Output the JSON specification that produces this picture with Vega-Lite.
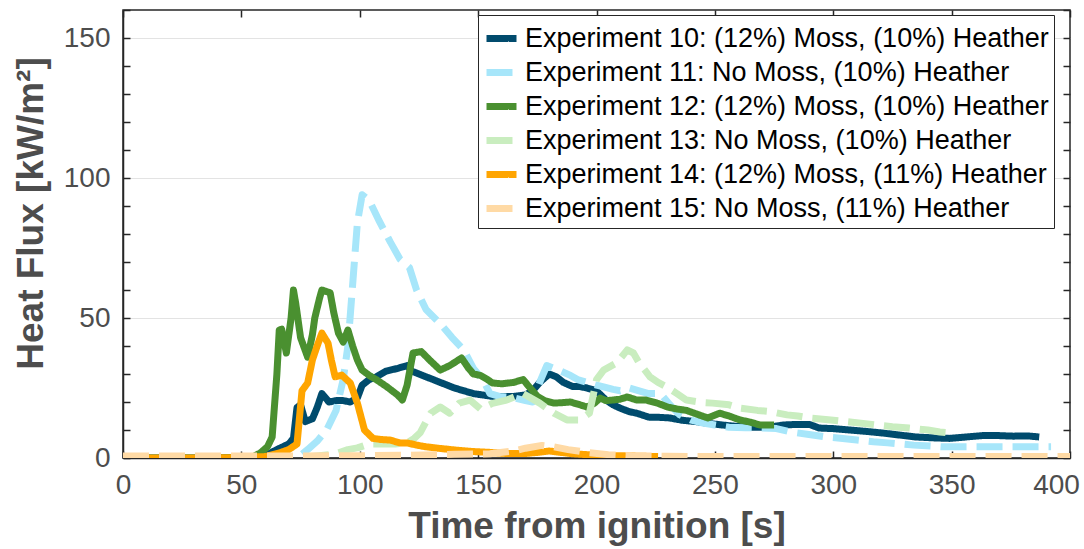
{
  "$schema": "https://vega.github.io/schema/vega-lite/v6.json",
  "width": 947,
  "height": 448,
  "autosize": {"type": "none"},
  "padding": {"left": 123, "top": 10, "right": 14, "bottom": 91},
  "background": "white",
  "config": {
    "view": {"stroke": "#262626", "strokeWidth": 1.5},
    "font": "Liberation Sans"
  },
  "datasets": {
    "d": [
      {"exp": "Experiment 10: (12%) Moss, (10%) Heather", "t": 0, "v": 0},
      {"exp": "Experiment 10: (12%) Moss, (10%) Heather", "t": 40, "v": 0},
      {"exp": "Experiment 10: (12%) Moss, (10%) Heather", "t": 55, "v": 0.3},
      {"exp": "Experiment 10: (12%) Moss, (10%) Heather", "t": 60, "v": 0.8},
      {"exp": "Experiment 10: (12%) Moss, (10%) Heather", "t": 65, "v": 3},
      {"exp": "Experiment 10: (12%) Moss, (10%) Heather", "t": 70, "v": 5},
      {"exp": "Experiment 10: (12%) Moss, (10%) Heather", "t": 72, "v": 7},
      {"exp": "Experiment 10: (12%) Moss, (10%) Heather", "t": 73.5, "v": 18},
      {"exp": "Experiment 10: (12%) Moss, (10%) Heather", "t": 75, "v": 19},
      {"exp": "Experiment 10: (12%) Moss, (10%) Heather", "t": 77, "v": 13},
      {"exp": "Experiment 10: (12%) Moss, (10%) Heather", "t": 80, "v": 14},
      {"exp": "Experiment 10: (12%) Moss, (10%) Heather", "t": 82, "v": 18},
      {"exp": "Experiment 10: (12%) Moss, (10%) Heather", "t": 84, "v": 23},
      {"exp": "Experiment 10: (12%) Moss, (10%) Heather", "t": 87, "v": 20},
      {"exp": "Experiment 10: (12%) Moss, (10%) Heather", "t": 90, "v": 20.5},
      {"exp": "Experiment 10: (12%) Moss, (10%) Heather", "t": 93, "v": 20.5},
      {"exp": "Experiment 10: (12%) Moss, (10%) Heather", "t": 96, "v": 20},
      {"exp": "Experiment 10: (12%) Moss, (10%) Heather", "t": 99, "v": 21.5},
      {"exp": "Experiment 10: (12%) Moss, (10%) Heather", "t": 101, "v": 26},
      {"exp": "Experiment 10: (12%) Moss, (10%) Heather", "t": 104, "v": 28},
      {"exp": "Experiment 10: (12%) Moss, (10%) Heather", "t": 107, "v": 29},
      {"exp": "Experiment 10: (12%) Moss, (10%) Heather", "t": 111, "v": 31},
      {"exp": "Experiment 10: (12%) Moss, (10%) Heather", "t": 116, "v": 32},
      {"exp": "Experiment 10: (12%) Moss, (10%) Heather", "t": 120, "v": 33},
      {"exp": "Experiment 10: (12%) Moss, (10%) Heather", "t": 122, "v": 31},
      {"exp": "Experiment 10: (12%) Moss, (10%) Heather", "t": 125, "v": 30},
      {"exp": "Experiment 10: (12%) Moss, (10%) Heather", "t": 128, "v": 29},
      {"exp": "Experiment 10: (12%) Moss, (10%) Heather", "t": 131, "v": 28},
      {"exp": "Experiment 10: (12%) Moss, (10%) Heather", "t": 134, "v": 27},
      {"exp": "Experiment 10: (12%) Moss, (10%) Heather", "t": 137, "v": 26},
      {"exp": "Experiment 10: (12%) Moss, (10%) Heather", "t": 140, "v": 25},
      {"exp": "Experiment 10: (12%) Moss, (10%) Heather", "t": 144, "v": 24},
      {"exp": "Experiment 10: (12%) Moss, (10%) Heather", "t": 148, "v": 23},
      {"exp": "Experiment 10: (12%) Moss, (10%) Heather", "t": 152, "v": 22.5},
      {"exp": "Experiment 10: (12%) Moss, (10%) Heather", "t": 156, "v": 22},
      {"exp": "Experiment 10: (12%) Moss, (10%) Heather", "t": 160, "v": 22},
      {"exp": "Experiment 10: (12%) Moss, (10%) Heather", "t": 165, "v": 22},
      {"exp": "Experiment 10: (12%) Moss, (10%) Heather", "t": 170, "v": 22.5},
      {"exp": "Experiment 10: (12%) Moss, (10%) Heather", "t": 173, "v": 24},
      {"exp": "Experiment 10: (12%) Moss, (10%) Heather", "t": 176, "v": 27},
      {"exp": "Experiment 10: (12%) Moss, (10%) Heather", "t": 180, "v": 30},
      {"exp": "Experiment 10: (12%) Moss, (10%) Heather", "t": 183, "v": 29},
      {"exp": "Experiment 10: (12%) Moss, (10%) Heather", "t": 186, "v": 27},
      {"exp": "Experiment 10: (12%) Moss, (10%) Heather", "t": 190, "v": 25.5},
      {"exp": "Experiment 10: (12%) Moss, (10%) Heather", "t": 193, "v": 25.5},
      {"exp": "Experiment 10: (12%) Moss, (10%) Heather", "t": 196, "v": 25},
      {"exp": "Experiment 10: (12%) Moss, (10%) Heather", "t": 200, "v": 24},
      {"exp": "Experiment 10: (12%) Moss, (10%) Heather", "t": 204, "v": 20.7},
      {"exp": "Experiment 10: (12%) Moss, (10%) Heather", "t": 207, "v": 19},
      {"exp": "Experiment 10: (12%) Moss, (10%) Heather", "t": 210, "v": 17.8},
      {"exp": "Experiment 10: (12%) Moss, (10%) Heather", "t": 214, "v": 16.5},
      {"exp": "Experiment 10: (12%) Moss, (10%) Heather", "t": 217, "v": 16},
      {"exp": "Experiment 10: (12%) Moss, (10%) Heather", "t": 222, "v": 14.6},
      {"exp": "Experiment 10: (12%) Moss, (10%) Heather", "t": 227, "v": 14.5},
      {"exp": "Experiment 10: (12%) Moss, (10%) Heather", "t": 231, "v": 14.3},
      {"exp": "Experiment 10: (12%) Moss, (10%) Heather", "t": 236, "v": 13.5},
      {"exp": "Experiment 10: (12%) Moss, (10%) Heather", "t": 242, "v": 13},
      {"exp": "Experiment 10: (12%) Moss, (10%) Heather", "t": 248, "v": 12.3},
      {"exp": "Experiment 10: (12%) Moss, (10%) Heather", "t": 253, "v": 11.8},
      {"exp": "Experiment 10: (12%) Moss, (10%) Heather", "t": 259, "v": 11.3},
      {"exp": "Experiment 10: (12%) Moss, (10%) Heather", "t": 265, "v": 11},
      {"exp": "Experiment 10: (12%) Moss, (10%) Heather", "t": 273, "v": 11},
      {"exp": "Experiment 10: (12%) Moss, (10%) Heather", "t": 279, "v": 11.8},
      {"exp": "Experiment 10: (12%) Moss, (10%) Heather", "t": 285, "v": 12},
      {"exp": "Experiment 10: (12%) Moss, (10%) Heather", "t": 290, "v": 12},
      {"exp": "Experiment 10: (12%) Moss, (10%) Heather", "t": 294, "v": 10.7},
      {"exp": "Experiment 10: (12%) Moss, (10%) Heather", "t": 300, "v": 10.5},
      {"exp": "Experiment 10: (12%) Moss, (10%) Heather", "t": 307, "v": 10},
      {"exp": "Experiment 10: (12%) Moss, (10%) Heather", "t": 314, "v": 9.5},
      {"exp": "Experiment 10: (12%) Moss, (10%) Heather", "t": 321, "v": 8.9},
      {"exp": "Experiment 10: (12%) Moss, (10%) Heather", "t": 328, "v": 8.2},
      {"exp": "Experiment 10: (12%) Moss, (10%) Heather", "t": 335, "v": 7.5},
      {"exp": "Experiment 10: (12%) Moss, (10%) Heather", "t": 342, "v": 7.2},
      {"exp": "Experiment 10: (12%) Moss, (10%) Heather", "t": 349, "v": 7},
      {"exp": "Experiment 10: (12%) Moss, (10%) Heather", "t": 356, "v": 7.5},
      {"exp": "Experiment 10: (12%) Moss, (10%) Heather", "t": 363, "v": 8},
      {"exp": "Experiment 10: (12%) Moss, (10%) Heather", "t": 370, "v": 8},
      {"exp": "Experiment 10: (12%) Moss, (10%) Heather", "t": 376, "v": 7.8},
      {"exp": "Experiment 10: (12%) Moss, (10%) Heather", "t": 382, "v": 7.9},
      {"exp": "Experiment 10: (12%) Moss, (10%) Heather", "t": 387, "v": 7.5},

      {"exp": "Experiment 11: No Moss, (10%) Heather", "t": 0, "v": 0},
      {"exp": "Experiment 11: No Moss, (10%) Heather", "t": 40, "v": 0},
      {"exp": "Experiment 11: No Moss, (10%) Heather", "t": 70, "v": 0},
      {"exp": "Experiment 11: No Moss, (10%) Heather", "t": 75, "v": 1},
      {"exp": "Experiment 11: No Moss, (10%) Heather", "t": 78, "v": 3},
      {"exp": "Experiment 11: No Moss, (10%) Heather", "t": 82, "v": 6},
      {"exp": "Experiment 11: No Moss, (10%) Heather", "t": 86, "v": 10},
      {"exp": "Experiment 11: No Moss, (10%) Heather", "t": 90, "v": 17},
      {"exp": "Experiment 11: No Moss, (10%) Heather", "t": 93, "v": 28},
      {"exp": "Experiment 11: No Moss, (10%) Heather", "t": 95, "v": 40},
      {"exp": "Experiment 11: No Moss, (10%) Heather", "t": 97, "v": 62},
      {"exp": "Experiment 11: No Moss, (10%) Heather", "t": 99, "v": 84},
      {"exp": "Experiment 11: No Moss, (10%) Heather", "t": 101, "v": 94},
      {"exp": "Experiment 11: No Moss, (10%) Heather", "t": 104, "v": 92},
      {"exp": "Experiment 11: No Moss, (10%) Heather", "t": 108, "v": 85},
      {"exp": "Experiment 11: No Moss, (10%) Heather", "t": 113, "v": 77},
      {"exp": "Experiment 11: No Moss, (10%) Heather", "t": 117, "v": 71},
      {"exp": "Experiment 11: No Moss, (10%) Heather", "t": 121, "v": 68},
      {"exp": "Experiment 11: No Moss, (10%) Heather", "t": 124, "v": 60},
      {"exp": "Experiment 11: No Moss, (10%) Heather", "t": 128, "v": 53},
      {"exp": "Experiment 11: No Moss, (10%) Heather", "t": 134, "v": 48},
      {"exp": "Experiment 11: No Moss, (10%) Heather", "t": 139, "v": 43},
      {"exp": "Experiment 11: No Moss, (10%) Heather", "t": 144, "v": 38.5},
      {"exp": "Experiment 11: No Moss, (10%) Heather", "t": 148, "v": 32},
      {"exp": "Experiment 11: No Moss, (10%) Heather", "t": 152, "v": 28},
      {"exp": "Experiment 11: No Moss, (10%) Heather", "t": 155, "v": 23},
      {"exp": "Experiment 11: No Moss, (10%) Heather", "t": 159, "v": 22},
      {"exp": "Experiment 11: No Moss, (10%) Heather", "t": 165, "v": 21.5},
      {"exp": "Experiment 11: No Moss, (10%) Heather", "t": 170, "v": 20.5},
      {"exp": "Experiment 11: No Moss, (10%) Heather", "t": 173, "v": 20},
      {"exp": "Experiment 11: No Moss, (10%) Heather", "t": 176, "v": 27},
      {"exp": "Experiment 11: No Moss, (10%) Heather", "t": 179, "v": 33},
      {"exp": "Experiment 11: No Moss, (10%) Heather", "t": 182, "v": 32},
      {"exp": "Experiment 11: No Moss, (10%) Heather", "t": 185, "v": 31},
      {"exp": "Experiment 11: No Moss, (10%) Heather", "t": 189, "v": 29.5},
      {"exp": "Experiment 11: No Moss, (10%) Heather", "t": 192, "v": 28},
      {"exp": "Experiment 11: No Moss, (10%) Heather", "t": 196, "v": 27},
      {"exp": "Experiment 11: No Moss, (10%) Heather", "t": 200, "v": 26},
      {"exp": "Experiment 11: No Moss, (10%) Heather", "t": 203, "v": 25.4},
      {"exp": "Experiment 11: No Moss, (10%) Heather", "t": 207, "v": 24.5},
      {"exp": "Experiment 11: No Moss, (10%) Heather", "t": 210, "v": 24},
      {"exp": "Experiment 11: No Moss, (10%) Heather", "t": 214, "v": 25},
      {"exp": "Experiment 11: No Moss, (10%) Heather", "t": 218, "v": 24},
      {"exp": "Experiment 11: No Moss, (10%) Heather", "t": 222, "v": 23},
      {"exp": "Experiment 11: No Moss, (10%) Heather", "t": 227, "v": 23},
      {"exp": "Experiment 11: No Moss, (10%) Heather", "t": 231, "v": 19},
      {"exp": "Experiment 11: No Moss, (10%) Heather", "t": 235, "v": 15.5},
      {"exp": "Experiment 11: No Moss, (10%) Heather", "t": 240, "v": 13.5},
      {"exp": "Experiment 11: No Moss, (10%) Heather", "t": 245, "v": 12.5},
      {"exp": "Experiment 11: No Moss, (10%) Heather", "t": 250, "v": 11.8},
      {"exp": "Experiment 11: No Moss, (10%) Heather", "t": 256, "v": 11},
      {"exp": "Experiment 11: No Moss, (10%) Heather", "t": 263, "v": 10.8},
      {"exp": "Experiment 11: No Moss, (10%) Heather", "t": 270, "v": 10.7},
      {"exp": "Experiment 11: No Moss, (10%) Heather", "t": 276, "v": 10.5},
      {"exp": "Experiment 11: No Moss, (10%) Heather", "t": 282, "v": 9.3},
      {"exp": "Experiment 11: No Moss, (10%) Heather", "t": 289, "v": 8.5},
      {"exp": "Experiment 11: No Moss, (10%) Heather", "t": 297, "v": 7.5},
      {"exp": "Experiment 11: No Moss, (10%) Heather", "t": 304, "v": 7},
      {"exp": "Experiment 11: No Moss, (10%) Heather", "t": 310, "v": 6.4},
      {"exp": "Experiment 11: No Moss, (10%) Heather", "t": 317, "v": 5.8},
      {"exp": "Experiment 11: No Moss, (10%) Heather", "t": 323, "v": 5.4},
      {"exp": "Experiment 11: No Moss, (10%) Heather", "t": 334, "v": 4.6},
      {"exp": "Experiment 11: No Moss, (10%) Heather", "t": 346, "v": 4},
      {"exp": "Experiment 11: No Moss, (10%) Heather", "t": 359, "v": 4},
      {"exp": "Experiment 11: No Moss, (10%) Heather", "t": 373, "v": 4},
      {"exp": "Experiment 11: No Moss, (10%) Heather", "t": 387, "v": 4},
      {"exp": "Experiment 11: No Moss, (10%) Heather", "t": 392, "v": 4},

      {"exp": "Experiment 12: (12%) Moss, (10%) Heather", "t": 0, "v": 0},
      {"exp": "Experiment 12: (12%) Moss, (10%) Heather", "t": 40, "v": 0},
      {"exp": "Experiment 12: (12%) Moss, (10%) Heather", "t": 55, "v": 0.5},
      {"exp": "Experiment 12: (12%) Moss, (10%) Heather", "t": 58, "v": 1.8},
      {"exp": "Experiment 12: (12%) Moss, (10%) Heather", "t": 61, "v": 4},
      {"exp": "Experiment 12: (12%) Moss, (10%) Heather", "t": 63, "v": 7.5},
      {"exp": "Experiment 12: (12%) Moss, (10%) Heather", "t": 65, "v": 30},
      {"exp": "Experiment 12: (12%) Moss, (10%) Heather", "t": 66, "v": 45.7},
      {"exp": "Experiment 12: (12%) Moss, (10%) Heather", "t": 67, "v": 46},
      {"exp": "Experiment 12: (12%) Moss, (10%) Heather", "t": 69, "v": 37.5},
      {"exp": "Experiment 12: (12%) Moss, (10%) Heather", "t": 71, "v": 50},
      {"exp": "Experiment 12: (12%) Moss, (10%) Heather", "t": 72, "v": 60},
      {"exp": "Experiment 12: (12%) Moss, (10%) Heather", "t": 73, "v": 55},
      {"exp": "Experiment 12: (12%) Moss, (10%) Heather", "t": 75, "v": 43},
      {"exp": "Experiment 12: (12%) Moss, (10%) Heather", "t": 78, "v": 36},
      {"exp": "Experiment 12: (12%) Moss, (10%) Heather", "t": 80, "v": 44},
      {"exp": "Experiment 12: (12%) Moss, (10%) Heather", "t": 81, "v": 50},
      {"exp": "Experiment 12: (12%) Moss, (10%) Heather", "t": 83, "v": 57},
      {"exp": "Experiment 12: (12%) Moss, (10%) Heather", "t": 84, "v": 60},
      {"exp": "Experiment 12: (12%) Moss, (10%) Heather", "t": 87.5, "v": 59},
      {"exp": "Experiment 12: (12%) Moss, (10%) Heather", "t": 89, "v": 52},
      {"exp": "Experiment 12: (12%) Moss, (10%) Heather", "t": 91, "v": 44.6},
      {"exp": "Experiment 12: (12%) Moss, (10%) Heather", "t": 93, "v": 41.4},
      {"exp": "Experiment 12: (12%) Moss, (10%) Heather", "t": 95, "v": 45.7},
      {"exp": "Experiment 12: (12%) Moss, (10%) Heather", "t": 97, "v": 40},
      {"exp": "Experiment 12: (12%) Moss, (10%) Heather", "t": 99, "v": 35},
      {"exp": "Experiment 12: (12%) Moss, (10%) Heather", "t": 101, "v": 31.4},
      {"exp": "Experiment 12: (12%) Moss, (10%) Heather", "t": 104, "v": 29.5},
      {"exp": "Experiment 12: (12%) Moss, (10%) Heather", "t": 107, "v": 28},
      {"exp": "Experiment 12: (12%) Moss, (10%) Heather", "t": 111.5, "v": 25.4},
      {"exp": "Experiment 12: (12%) Moss, (10%) Heather", "t": 116, "v": 22.5},
      {"exp": "Experiment 12: (12%) Moss, (10%) Heather", "t": 118, "v": 20.7},
      {"exp": "Experiment 12: (12%) Moss, (10%) Heather", "t": 120, "v": 26},
      {"exp": "Experiment 12: (12%) Moss, (10%) Heather", "t": 122.5, "v": 37.5},
      {"exp": "Experiment 12: (12%) Moss, (10%) Heather", "t": 126, "v": 38},
      {"exp": "Experiment 12: (12%) Moss, (10%) Heather", "t": 129.5, "v": 35},
      {"exp": "Experiment 12: (12%) Moss, (10%) Heather", "t": 134, "v": 31.4},
      {"exp": "Experiment 12: (12%) Moss, (10%) Heather", "t": 138, "v": 33},
      {"exp": "Experiment 12: (12%) Moss, (10%) Heather", "t": 143, "v": 35.7},
      {"exp": "Experiment 12: (12%) Moss, (10%) Heather", "t": 146, "v": 32},
      {"exp": "Experiment 12: (12%) Moss, (10%) Heather", "t": 148, "v": 30},
      {"exp": "Experiment 12: (12%) Moss, (10%) Heather", "t": 151, "v": 29.5},
      {"exp": "Experiment 12: (12%) Moss, (10%) Heather", "t": 154, "v": 28},
      {"exp": "Experiment 12: (12%) Moss, (10%) Heather", "t": 156, "v": 26.8},
      {"exp": "Experiment 12: (12%) Moss, (10%) Heather", "t": 160, "v": 26.5},
      {"exp": "Experiment 12: (12%) Moss, (10%) Heather", "t": 165, "v": 27},
      {"exp": "Experiment 12: (12%) Moss, (10%) Heather", "t": 169, "v": 28},
      {"exp": "Experiment 12: (12%) Moss, (10%) Heather", "t": 172, "v": 25},
      {"exp": "Experiment 12: (12%) Moss, (10%) Heather", "t": 175, "v": 22},
      {"exp": "Experiment 12: (12%) Moss, (10%) Heather", "t": 178, "v": 20.5},
      {"exp": "Experiment 12: (12%) Moss, (10%) Heather", "t": 182, "v": 19.6},
      {"exp": "Experiment 12: (12%) Moss, (10%) Heather", "t": 186, "v": 19.8},
      {"exp": "Experiment 12: (12%) Moss, (10%) Heather", "t": 189, "v": 20},
      {"exp": "Experiment 12: (12%) Moss, (10%) Heather", "t": 193, "v": 19},
      {"exp": "Experiment 12: (12%) Moss, (10%) Heather", "t": 196, "v": 18.2},
      {"exp": "Experiment 12: (12%) Moss, (10%) Heather", "t": 199, "v": 19.5},
      {"exp": "Experiment 12: (12%) Moss, (10%) Heather", "t": 201.5, "v": 21.4},
      {"exp": "Experiment 12: (12%) Moss, (10%) Heather", "t": 204, "v": 20.5},
      {"exp": "Experiment 12: (12%) Moss, (10%) Heather", "t": 207, "v": 20.7},
      {"exp": "Experiment 12: (12%) Moss, (10%) Heather", "t": 210, "v": 21},
      {"exp": "Experiment 12: (12%) Moss, (10%) Heather", "t": 213, "v": 21.8},
      {"exp": "Experiment 12: (12%) Moss, (10%) Heather", "t": 217, "v": 20.7},
      {"exp": "Experiment 12: (12%) Moss, (10%) Heather", "t": 221, "v": 20.7},
      {"exp": "Experiment 12: (12%) Moss, (10%) Heather", "t": 226, "v": 19.5},
      {"exp": "Experiment 12: (12%) Moss, (10%) Heather", "t": 230, "v": 18.2},
      {"exp": "Experiment 12: (12%) Moss, (10%) Heather", "t": 234, "v": 17.5},
      {"exp": "Experiment 12: (12%) Moss, (10%) Heather", "t": 238, "v": 17},
      {"exp": "Experiment 12: (12%) Moss, (10%) Heather", "t": 243, "v": 15.5},
      {"exp": "Experiment 12: (12%) Moss, (10%) Heather", "t": 247, "v": 14.3},
      {"exp": "Experiment 12: (12%) Moss, (10%) Heather", "t": 252, "v": 16},
      {"exp": "Experiment 12: (12%) Moss, (10%) Heather", "t": 256, "v": 15},
      {"exp": "Experiment 12: (12%) Moss, (10%) Heather", "t": 260.5, "v": 13.6},
      {"exp": "Experiment 12: (12%) Moss, (10%) Heather", "t": 265, "v": 12.8},
      {"exp": "Experiment 12: (12%) Moss, (10%) Heather", "t": 269, "v": 11.8},
      {"exp": "Experiment 12: (12%) Moss, (10%) Heather", "t": 275, "v": 11.8},

      {"exp": "Experiment 13: No Moss, (10%) Heather", "t": 0, "v": 0},
      {"exp": "Experiment 13: No Moss, (10%) Heather", "t": 60, "v": 0},
      {"exp": "Experiment 13: No Moss, (10%) Heather", "t": 80, "v": 0.5},
      {"exp": "Experiment 13: No Moss, (10%) Heather", "t": 90, "v": 1.5},
      {"exp": "Experiment 13: No Moss, (10%) Heather", "t": 95, "v": 3},
      {"exp": "Experiment 13: No Moss, (10%) Heather", "t": 99, "v": 3.6},
      {"exp": "Experiment 13: No Moss, (10%) Heather", "t": 104, "v": 5},
      {"exp": "Experiment 13: No Moss, (10%) Heather", "t": 110, "v": 5},
      {"exp": "Experiment 13: No Moss, (10%) Heather", "t": 115, "v": 5},
      {"exp": "Experiment 13: No Moss, (10%) Heather", "t": 120, "v": 5.4},
      {"exp": "Experiment 13: No Moss, (10%) Heather", "t": 123, "v": 7},
      {"exp": "Experiment 13: No Moss, (10%) Heather", "t": 125.5, "v": 9},
      {"exp": "Experiment 13: No Moss, (10%) Heather", "t": 128, "v": 13},
      {"exp": "Experiment 13: No Moss, (10%) Heather", "t": 130, "v": 16},
      {"exp": "Experiment 13: No Moss, (10%) Heather", "t": 134, "v": 18.2},
      {"exp": "Experiment 13: No Moss, (10%) Heather", "t": 138, "v": 16},
      {"exp": "Experiment 13: No Moss, (10%) Heather", "t": 142, "v": 19.6},
      {"exp": "Experiment 13: No Moss, (10%) Heather", "t": 146.6, "v": 20.7},
      {"exp": "Experiment 13: No Moss, (10%) Heather", "t": 151, "v": 17.5},
      {"exp": "Experiment 13: No Moss, (10%) Heather", "t": 156, "v": 19.5},
      {"exp": "Experiment 13: No Moss, (10%) Heather", "t": 162, "v": 20.7},
      {"exp": "Experiment 13: No Moss, (10%) Heather", "t": 169, "v": 23},
      {"exp": "Experiment 13: No Moss, (10%) Heather", "t": 176, "v": 19.6},
      {"exp": "Experiment 13: No Moss, (10%) Heather", "t": 182, "v": 16},
      {"exp": "Experiment 13: No Moss, (10%) Heather", "t": 187.5, "v": 13.6},
      {"exp": "Experiment 13: No Moss, (10%) Heather", "t": 193, "v": 13.6},
      {"exp": "Experiment 13: No Moss, (10%) Heather", "t": 197, "v": 16},
      {"exp": "Experiment 13: No Moss, (10%) Heather", "t": 200, "v": 28},
      {"exp": "Experiment 13: No Moss, (10%) Heather", "t": 203, "v": 31.4},
      {"exp": "Experiment 13: No Moss, (10%) Heather", "t": 208.6, "v": 34},
      {"exp": "Experiment 13: No Moss, (10%) Heather", "t": 213, "v": 38.6},
      {"exp": "Experiment 13: No Moss, (10%) Heather", "t": 215.6, "v": 37.5},
      {"exp": "Experiment 13: No Moss, (10%) Heather", "t": 218, "v": 34},
      {"exp": "Experiment 13: No Moss, (10%) Heather", "t": 222.6, "v": 29},
      {"exp": "Experiment 13: No Moss, (10%) Heather", "t": 226, "v": 27},
      {"exp": "Experiment 13: No Moss, (10%) Heather", "t": 229.6, "v": 25.4},
      {"exp": "Experiment 13: No Moss, (10%) Heather", "t": 234, "v": 23},
      {"exp": "Experiment 13: No Moss, (10%) Heather", "t": 238, "v": 20.7},
      {"exp": "Experiment 13: No Moss, (10%) Heather", "t": 245, "v": 19.8},
      {"exp": "Experiment 13: No Moss, (10%) Heather", "t": 249, "v": 19.6},
      {"exp": "Experiment 13: No Moss, (10%) Heather", "t": 256, "v": 19},
      {"exp": "Experiment 13: No Moss, (10%) Heather", "t": 260.6, "v": 17.8},
      {"exp": "Experiment 13: No Moss, (10%) Heather", "t": 268, "v": 17},
      {"exp": "Experiment 13: No Moss, (10%) Heather", "t": 274, "v": 16.5},
      {"exp": "Experiment 13: No Moss, (10%) Heather", "t": 280.5, "v": 15.4},
      {"exp": "Experiment 13: No Moss, (10%) Heather", "t": 285, "v": 15},
      {"exp": "Experiment 13: No Moss, (10%) Heather", "t": 290, "v": 14.3},
      {"exp": "Experiment 13: No Moss, (10%) Heather", "t": 299, "v": 13.6},
      {"exp": "Experiment 13: No Moss, (10%) Heather", "t": 308, "v": 12.8},
      {"exp": "Experiment 13: No Moss, (10%) Heather", "t": 318.5, "v": 11.8},
      {"exp": "Experiment 13: No Moss, (10%) Heather", "t": 325, "v": 11.2},
      {"exp": "Experiment 13: No Moss, (10%) Heather", "t": 332, "v": 10.7},
      {"exp": "Experiment 13: No Moss, (10%) Heather", "t": 340, "v": 10},
      {"exp": "Experiment 13: No Moss, (10%) Heather", "t": 345, "v": 9.3},
      {"exp": "Experiment 13: No Moss, (10%) Heather", "t": 351, "v": 8.9},

      {"exp": "Experiment 14: (12%) Moss, (11%) Heather", "t": 0, "v": 0},
      {"exp": "Experiment 14: (12%) Moss, (11%) Heather", "t": 40, "v": 0},
      {"exp": "Experiment 14: (12%) Moss, (11%) Heather", "t": 60, "v": 0.5},
      {"exp": "Experiment 14: (12%) Moss, (11%) Heather", "t": 66, "v": 1.8},
      {"exp": "Experiment 14: (12%) Moss, (11%) Heather", "t": 70, "v": 3},
      {"exp": "Experiment 14: (12%) Moss, (11%) Heather", "t": 73.5, "v": 5},
      {"exp": "Experiment 14: (12%) Moss, (11%) Heather", "t": 75.6, "v": 24},
      {"exp": "Experiment 14: (12%) Moss, (11%) Heather", "t": 78, "v": 26.8},
      {"exp": "Experiment 14: (12%) Moss, (11%) Heather", "t": 80, "v": 35},
      {"exp": "Experiment 14: (12%) Moss, (11%) Heather", "t": 82, "v": 40},
      {"exp": "Experiment 14: (12%) Moss, (11%) Heather", "t": 84, "v": 44.6},
      {"exp": "Experiment 14: (12%) Moss, (11%) Heather", "t": 86.6, "v": 41},
      {"exp": "Experiment 14: (12%) Moss, (11%) Heather", "t": 88, "v": 35},
      {"exp": "Experiment 14: (12%) Moss, (11%) Heather", "t": 89.6, "v": 29},
      {"exp": "Experiment 14: (12%) Moss, (11%) Heather", "t": 92.4, "v": 29.6},
      {"exp": "Experiment 14: (12%) Moss, (11%) Heather", "t": 96, "v": 26.8},
      {"exp": "Experiment 14: (12%) Moss, (11%) Heather", "t": 99, "v": 19.6},
      {"exp": "Experiment 14: (12%) Moss, (11%) Heather", "t": 102, "v": 10},
      {"exp": "Experiment 14: (12%) Moss, (11%) Heather", "t": 105.6, "v": 7},
      {"exp": "Experiment 14: (12%) Moss, (11%) Heather", "t": 109, "v": 6.6},
      {"exp": "Experiment 14: (12%) Moss, (11%) Heather", "t": 112.8, "v": 6.4},
      {"exp": "Experiment 14: (12%) Moss, (11%) Heather", "t": 117, "v": 5.4},
      {"exp": "Experiment 14: (12%) Moss, (11%) Heather", "t": 120, "v": 5.4},
      {"exp": "Experiment 14: (12%) Moss, (11%) Heather", "t": 124, "v": 4.6},
      {"exp": "Experiment 14: (12%) Moss, (11%) Heather", "t": 128, "v": 4},
      {"exp": "Experiment 14: (12%) Moss, (11%) Heather", "t": 134, "v": 3.4},
      {"exp": "Experiment 14: (12%) Moss, (11%) Heather", "t": 141, "v": 2.8},
      {"exp": "Experiment 14: (12%) Moss, (11%) Heather", "t": 148, "v": 2.3},
      {"exp": "Experiment 14: (12%) Moss, (11%) Heather", "t": 155, "v": 2},
      {"exp": "Experiment 14: (12%) Moss, (11%) Heather", "t": 162, "v": 1.6},
      {"exp": "Experiment 14: (12%) Moss, (11%) Heather", "t": 170, "v": 1.6},
      {"exp": "Experiment 14: (12%) Moss, (11%) Heather", "t": 175, "v": 2},
      {"exp": "Experiment 14: (12%) Moss, (11%) Heather", "t": 180, "v": 2.5},
      {"exp": "Experiment 14: (12%) Moss, (11%) Heather", "t": 185, "v": 2},
      {"exp": "Experiment 14: (12%) Moss, (11%) Heather", "t": 190, "v": 1.5},
      {"exp": "Experiment 14: (12%) Moss, (11%) Heather", "t": 200, "v": 1},
      {"exp": "Experiment 14: (12%) Moss, (11%) Heather", "t": 210, "v": 0.8},
      {"exp": "Experiment 14: (12%) Moss, (11%) Heather", "t": 220, "v": 0.6},
      {"exp": "Experiment 14: (12%) Moss, (11%) Heather", "t": 226, "v": 0.5},

      {"exp": "Experiment 15: No Moss, (11%) Heather", "t": 0, "v": 0.7},
      {"exp": "Experiment 15: No Moss, (11%) Heather", "t": 50, "v": 0.7},
      {"exp": "Experiment 15: No Moss, (11%) Heather", "t": 100, "v": 0.8},
      {"exp": "Experiment 15: No Moss, (11%) Heather", "t": 120, "v": 1},
      {"exp": "Experiment 15: No Moss, (11%) Heather", "t": 140, "v": 1.3},
      {"exp": "Experiment 15: No Moss, (11%) Heather", "t": 155, "v": 1.5},
      {"exp": "Experiment 15: No Moss, (11%) Heather", "t": 165, "v": 2.5},
      {"exp": "Experiment 15: No Moss, (11%) Heather", "t": 170, "v": 3.5},
      {"exp": "Experiment 15: No Moss, (11%) Heather", "t": 177, "v": 4.5},
      {"exp": "Experiment 15: No Moss, (11%) Heather", "t": 182, "v": 4},
      {"exp": "Experiment 15: No Moss, (11%) Heather", "t": 188, "v": 3},
      {"exp": "Experiment 15: No Moss, (11%) Heather", "t": 196, "v": 2},
      {"exp": "Experiment 15: No Moss, (11%) Heather", "t": 205, "v": 1.2},
      {"exp": "Experiment 15: No Moss, (11%) Heather", "t": 215, "v": 0.8},
      {"exp": "Experiment 15: No Moss, (11%) Heather", "t": 230, "v": 0.6},
      {"exp": "Experiment 15: No Moss, (11%) Heather", "t": 260, "v": 0.5},
      {"exp": "Experiment 15: No Moss, (11%) Heather", "t": 300, "v": 0.5},
      {"exp": "Experiment 15: No Moss, (11%) Heather", "t": 350, "v": 0.5},
      {"exp": "Experiment 15: No Moss, (11%) Heather", "t": 400, "v": 0.5}
    ]
  },
  "data": {"name": "d"},
  "layer": [
    {
      "mark": {"type": "line", "strokeWidth": 7, "strokeJoin": "round", "strokeCap": "butt", "clip": true},
      "encoding": {
        "x": {
          "field": "t", "type": "quantitative",
          "scale": {"domain": [0, 400], "nice": false, "zero": false},
          "axis": {
            "values": [0, 50, 100, 150, 200, 250, 300, 350, 400],
            "tickSize": -7, "tickColor": "#262626", "tickWidth": 1.5,
            "domainColor": "#262626", "domainWidth": 1.5,
            "labelFontSize": 28, "labelColor": "#4d4d4d", "labelPadding": 20, "labelFlush": false,
            "labelOffset": {"condition": {"test": "datum.value === 400", "value": -14}, "value": 0},
            "grid": false,
            "title": "Time from ignition [s]", "titleFontSize": 37, "titleFontWeight": "bold",
            "titleColor": "#4d4d4d", "titlePadding": 9
          }
        },
        "y": {
          "field": "v", "type": "quantitative",
          "scale": {"domain": [0, 160], "nice": false, "zero": false},
          "axis": {
            "values": [0, 10, 20, 30, 40, 50, 60, 70, 80, 90, 100, 110, 120, 130, 140, 150, 160],
            "labelExpr": "datum.value % 50 === 0 ? datum.label : ''",
            "tickSize": -7, "tickColor": "#262626", "tickWidth": 1.5,
            "domainColor": "#262626", "domainWidth": 1.5,
            "labelFontSize": 28, "labelColor": "#4d4d4d", "labelPadding": 20, "labelFlush": false,
            "labelOverlap": false,
            "grid": true, "gridColor": "#e3e3e3", "gridWidth": 1,
            "gridOpacity": {"condition": {"test": "datum.value % 50 === 0 && datum.value > 0 && datum.value < 160", "value": 1}, "value": 0},
            "title": "Heat Flux [kW/m²]", "titleFontSize": 37, "titleFontWeight": "bold",
            "titleColor": "#4d4d4d", "titleX": -92, "titleY": 203, "titleAngle": -90,
            "titleAlign": "center", "titleBaseline": "middle"
          }
        },
        "color": {
          "field": "exp", "type": "nominal",
          "scale": {
            "domain": [
              "Experiment 10: (12%) Moss, (10%) Heather",
              "Experiment 11: No Moss, (10%) Heather",
              "Experiment 12: (12%) Moss, (10%) Heather",
              "Experiment 13: No Moss, (10%) Heather",
              "Experiment 14: (12%) Moss, (11%) Heather",
              "Experiment 15: No Moss, (11%) Heather"
            ],
            "range": ["#004B6D", "#A7E6FA", "#4A9030", "#C9EDBF", "#FFA500", "#FFDAA5"]
          },
          "legend": {
            "title": null, "orient": "none", "legendX": 355, "legendY": 5,
            "symbolType": "stroke", "symbolStrokeWidth": 7, "symbolSize": 900,
            "labelFontSize": 27, "labelColor": "#000000", "labelLimit": 1000, "labelOffset": 5,
            "rowPadding": 1, "padding": 5,
            "strokeColor": "#262626", "fillColor": "white",
            "symbolDash": [1, 0]
          }
        },
        "strokeDash": {
          "field": "exp", "type": "nominal",
          "scale": {
            "domain": [
              "Experiment 10: (12%) Moss, (10%) Heather",
              "Experiment 11: No Moss, (10%) Heather",
              "Experiment 12: (12%) Moss, (10%) Heather",
              "Experiment 13: No Moss, (10%) Heather",
              "Experiment 14: (12%) Moss, (11%) Heather",
              "Experiment 15: No Moss, (11%) Heather"
            ],
            "range": [[1, 0], [26, 10], [1, 0], [26, 10], [1, 0], [26, 10]]
          },
          "legend": null
        }
      }
    },
    {
      "mark": {"type": "line", "opacity": 0},
      "encoding": {
        "x": {
          "field": "t", "type": "quantitative",
          "axis": {
            "orient": "top", "values": [0, 50, 100, 150, 200, 250, 300, 350, 400],
            "tickSize": -7, "tickColor": "#262626", "tickWidth": 1.5,
            "domain": false, "labels": false, "grid": false, "title": null
          }
        },
        "y": {
          "field": "v", "type": "quantitative",
          "axis": {
            "orient": "right",
            "values": [0, 10, 20, 30, 40, 50, 60, 70, 80, 90, 100, 110, 120, 130, 140, 150, 160],
            "tickSize": -7, "tickColor": "#262626", "tickWidth": 1.5,
            "domain": false, "labels": false, "grid": false, "title": null
          }
        }
      }
    }
  ],
  "resolve": {"axis": {"x": "independent", "y": "independent"}}
}
